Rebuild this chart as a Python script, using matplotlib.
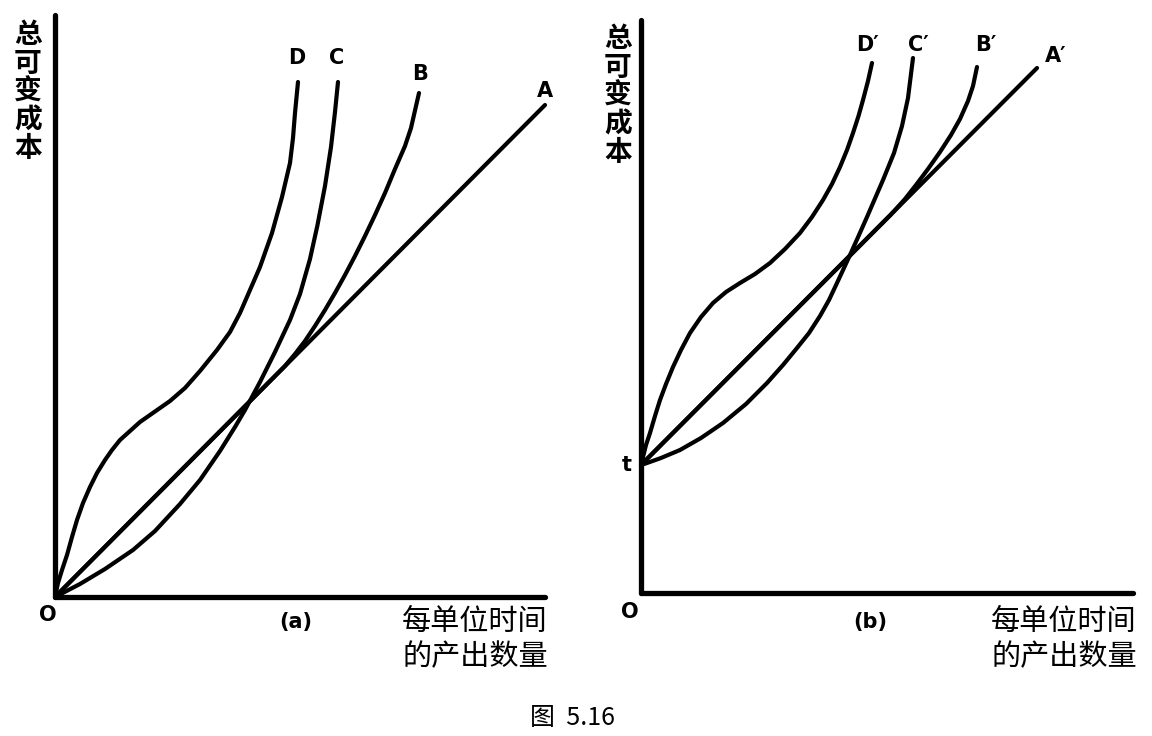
import matplotlib
matplotlib.use("Agg")
import matplotlib.pyplot as plt

plt.rcParams['font.family'] = ['Noto Sans CJK SC', 'DejaVu Sans']

# ---------------- 数据（单位：产出量 / 总可变成本，读自原图） ----------------
# (a) 从原点出发
a_A_x = [0, 98]
a_A_y = [0, 98.4]
a_B_x = [0, 46, 48, 50, 52, 54, 56, 58, 60, 62, 64, 66, 68, 70, 71.2, 72.8]
a_B_y = [0, 46.2, 48.6, 51.2, 54.2, 57.4, 60.8, 64.4, 68.2, 72.2, 76.4, 80.8, 85.6, 90.2,
         93.8, 100.8]
a_C_x = [0, 5, 10, 15.6, 20, 25, 29, 33, 36, 38, 41, 44, 47, 49, 51, 52.5, 54, 55.2, 56, 56.6]
a_C_y = [0, 2.6, 5.6, 9.4, 13.2, 18.6, 23.4, 29.2, 34, 37.4, 43, 49, 55.4, 60.6, 67.6, 74.4,
         82.2, 90, 97, 103]
a_D_x = [0, 0.6, 1.4, 2.4, 3.4, 4.4, 5.6, 7, 8.4, 10, 11.4, 13, 15, 17, 19, 21, 23, 26, 29,
         32.4, 35, 37, 39, 41, 42.2, 43.4, 44.4, 45.4, 46.2, 47, 47.6, 48, 48.6]
a_D_y = [0, 2.8, 5.4, 8.4, 12, 15.4, 18.8, 22, 24.8, 27.4, 29.4, 31.4, 33.2, 35, 36.4, 37.8,
         39.2, 41.8, 45.2, 49.4, 53, 56.8, 61.4, 66, 69.4, 72.8, 76.4, 80, 83.4, 86.8, 91.8,
         96.8, 103]

# (b) 从固定点 t 出发
t_val = 25.6
b_A_x = [0, 79.2]
b_A_y = [25.6, 105]
b_B_x = [0, 50, 52.8, 55, 57.4, 59.8, 62, 63.8, 65.4, 66.4, 67.2]
b_B_y = [25.6, 75.7, 78.8, 81.6, 84.8, 88.2, 91.6, 94.8, 98.4, 101.4, 105.2]
b_C_x = [0, 1.2, 4, 7.8, 12, 16.4, 21, 25.2, 28.4, 31.2, 33.6, 35.8, 37.6, 39.2, 41.8, 43.6,
         45.2, 48.4, 50.6, 52.2, 53.4, 54.4]
b_C_y = [25.6, 26, 27, 28.6, 31, 34, 37.8, 42, 45.6, 49, 52, 55.4, 58.6, 62, 67.6, 71.6,
         75.2, 82.6, 88, 93.4, 99, 107]
b_D_x = [0, 0.4, 1, 1.8, 2.8, 3.8, 5, 6.4, 8, 9.8, 12, 14.4, 17, 19.8, 22.8, 25.8, 28.8, 31.8,
         34.2, 36.4, 38.2, 39.8, 41.2, 42.4, 43.5, 44.4, 45.4, 46.2]
b_D_y = [25.6, 27.2, 29.6, 32, 35.4, 38.6, 41.8, 45.2, 48.6, 52, 55.2, 58, 60.2, 62, 63.8, 66,
         68.8, 72, 75.2, 78.6, 81.8, 85.2, 88.6, 92, 95.4, 98.6, 102.4, 106]

labels_a = ["A", "B", "C", "D"]
labels_b = ["A′", "B′", "C′", "D′"]

W, H = 1152, 736


def px(x, y):
    # 像素位置 -> figure 坐标
    return x / W, 1 - y / H


fig = plt.figure(figsize=(W / 100, H / 100), dpi=100)
fig.patch.set_facecolor("white")


def make_ax(x0, y0, x1, y1, xmax, ymax):
    l, b = px(x0, y1)
    ax = fig.add_axes([l, b, (x1 - x0) / W, (y1 - y0) / H])
    ax.set_xlim(0, xmax)
    ax.set_ylim(0, ymax)
    for s in ["top", "right"]:
        ax.spines[s].set_visible(False)
    for s in ["left", "bottom"]:
        ax.spines[s].set_linewidth(3.8)
        ax.spines[s].set_capstyle("round")
    ax.set_xticks([])
    ax.set_yticks([])
    ax.patch.set_alpha(0)
    return ax


lw = 3.0
kw = dict(color="black", lw=lw, solid_capstyle="round", solid_joinstyle="round", clip_on=False)
lab = dict(fontsize=15, fontweight="bold", family=["DejaVu Sans"], ha="center", va="center")

# ---------------- (a) ----------------
ax1 = make_ax(55, 15, 545, 597, 98, 116.4)
ax1.plot(a_A_x, a_A_y, **kw)
ax1.plot(a_B_x, a_B_y, **kw)
ax1.plot(a_C_x, a_C_y, **kw)
ax1.plot(a_D_x, a_D_y, **kw)
ax1.text(98, 101.2, labels_a[0], **lab)
ax1.text(73, 104.6, labels_a[1], **lab)
ax1.text(56.4, 107.8, labels_a[2], **lab)
ax1.text(48.4, 107.8, labels_a[3], **lab)

# ---------------- (b) ----------------
ax2 = make_ax(641, 20, 1133, 593, 98.4, 114.6)
ax2.plot(b_A_x, b_A_y, **kw)
ax2.plot(b_B_x, b_B_y, **kw)
ax2.plot(b_C_x, b_C_y, **kw)
ax2.plot(b_D_x, b_D_y, **kw)
ax2.text(83, 107.4, labels_b[0], **lab)
ax2.text(69, 109.6, labels_b[1], **lab)
ax2.text(55.4, 109.6, labels_b[2], **lab)
ax2.text(45.2, 109.6, labels_b[3], **lab)
ax2.text(-2.8, t_val, "t", **lab)

# 纵轴标题
ylab = "\n".join("总可变成本")
for xx, yy in [(28, 92), (618, 96)]:
    fig.text(*px(xx, yy), ylab, fontsize=20, fontweight="bold", ha="center", va="center",
             linespacing=1.02)

# 原点、分图标号
for xx, yy in [(48, 615), (630, 612)]:
    fig.text(*px(xx, yy), "O", fontsize=15, fontweight="bold", family=["DejaVu Sans"],
             ha="center", va="center")
fig.text(*px(296, 622), "(a)", fontsize=15, fontweight="bold", family=["DejaVu Sans"],
         ha="center", va="center")
fig.text(*px(870, 622), "(b)", fontsize=15, fontweight="bold", family=["DejaVu Sans"],
         ha="center", va="center")

# 横轴标题
for xx in [475, 1064]:
    fig.text(*px(xx, 622), "每单位时间", fontsize=21, ha="center", va="center")
    fig.text(*px(xx, 657), "的产出数量", fontsize=21, ha="center", va="center")

fig.text(*px(572, 718), "图  5.16", fontsize=18, ha="center", va="center")

fig.savefig("out.png", dpi=100, facecolor="white")
